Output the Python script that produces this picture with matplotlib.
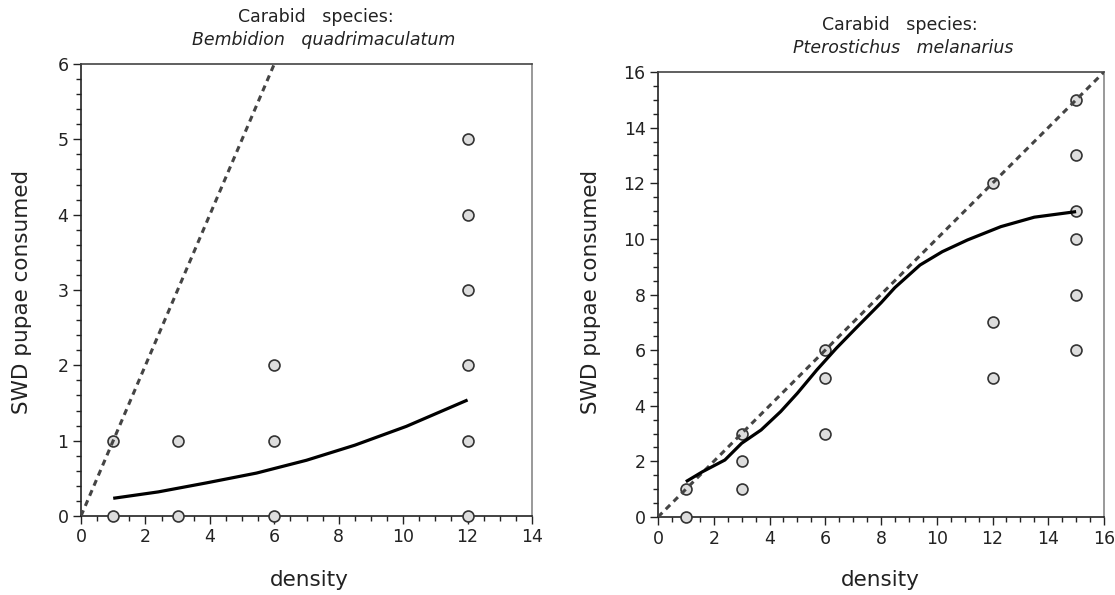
"""Functional response of two carabid species feeding on SWD pupae."""
import matplotlib
matplotlib.use("Agg")
import matplotlib.pyplot as plt
from matplotlib.ticker import MultipleLocator

# Bembidion quadrimaculatum
bq_density = [1, 1, 3, 3, 6, 6, 6, 12, 12, 12, 12, 12, 12]
bq_consumed = [0, 1, 0, 1, 0, 1, 2, 0, 1, 2, 3, 4, 5]
bq_fit_x = [1.0, 2.4, 3.9, 5.45, 7.0, 8.5, 10.1, 12.0]
bq_fit_y = [0.235, 0.32, 0.44, 0.57, 0.74, 0.94, 1.19, 1.54]
bq_ref_x = [0, 6]
bq_ref_y = [0, 6]

# Pterostichus melanarius
pm_density = [1, 1, 3, 3, 3, 6, 6, 6, 12, 12, 12, 15, 15, 15, 15, 15, 15]
pm_consumed = [0, 1, 1, 2, 3, 3, 5, 6, 5, 7, 12, 6, 8, 10, 11, 13, 15]
pm_fit_x = [1.0, 1.6, 2.4, 3.0, 3.7, 4.4, 5.0, 5.7, 6.4, 7.1, 8.0, 8.5, 9.4,
            10.2, 11.1, 12.3, 13.5, 15.0]
pm_fit_y = [1.27, 1.63, 2.05, 2.65, 3.13, 3.79, 4.45, 5.29, 6.07, 6.79, 7.7, 8.25,
            9.06, 9.54, 9.96, 10.44, 10.78, 10.98]
pm_ref_x = [0, 16]
pm_ref_y = [0, 16]

plt.rcParams["font.family"] = ["DejaVu Sans"]

fig = plt.figure(figsize=(11.15, 5.95), dpi=100)
W, H = 1115, 595


def make_axes(x0, x1, y_top, y_bot):
    return fig.add_axes([x0 / W, 1 - y_bot / H, (x1 - x0) / W, (y_bot - y_top) / H])


def style_axes(ax, xmax, ymax, ymajor, yminor):
    ax.set_xlim(0, xmax)
    ax.set_ylim(0, ymax)
    ax.xaxis.set_major_locator(MultipleLocator(2))
    ax.xaxis.set_minor_locator(MultipleLocator(0.5))
    ax.yaxis.set_major_locator(MultipleLocator(ymajor))
    ax.yaxis.set_minor_locator(MultipleLocator(yminor))
    ax.tick_params(which="major", direction="out", length=6, width=1, labelsize=12.5,
                   colors="#222222", pad=3)
    ax.tick_params(which="minor", direction="out", length=3.5, width=1, color="#222222")
    ax.spines["left"].set_color("#222222")
    ax.spines["bottom"].set_color("#222222")
    ax.spines["top"].set_color("#444444")
    ax.spines["right"].set_color("#888888")
    for s in ax.spines.values():
        s.set_linewidth(1.2)


def draw_panel(ax, dens, cons, fx, fy, rx, ry):
    ax.scatter(dens, cons, s=62, facecolor="#dddddd", edgecolor="#333333",
               linewidth=1.2, zorder=3, clip_on=False)
    ax.plot(rx, ry, color="#444444", lw=2.2, dashes=(2, 1.6), zorder=4,
            solid_capstyle="butt")
    ax.plot(fx, fy, color="black", lw=2.3, zorder=5, solid_capstyle="butt")


ax1 = make_axes(81, 532, 64, 516)
style_axes(ax1, 14, 6, 1, 0.2)
draw_panel(ax1, bq_density, bq_consumed, bq_fit_x, bq_fit_y, bq_ref_x, bq_ref_y)

ax2 = make_axes(658, 1104, 72, 517)
style_axes(ax2, 16, 16, 2, 0.5)
draw_panel(ax2, pm_density, pm_consumed, pm_fit_x, pm_fit_y, pm_ref_x, pm_ref_y)

# titles
fig.text(316 / W, 1 - 17 / H, "Carabid   species:", ha="center", va="center",
         fontsize=12.5, color="#222222")
fig.text(324 / W, 1 - 40 / H, "Bembidion   quadrimaculatum", ha="center", va="center",
         fontsize=12.5, style="italic", color="#222222")
fig.text(900 / W, 1 - 25 / H, "Carabid   species:", ha="center", va="center",
         fontsize=12.5, color="#222222")
fig.text(903 / W, 1 - 48 / H, "Pterostichus   melanarius", ha="center", va="center",
         fontsize=12.5, style="italic", color="#222222")

# axis labels
for x in (22, 591):
    fig.text(x / W, 1 - 292 / H, "SWD pupae consumed", rotation=90, ha="center",
             va="center", fontsize=15.5, color="#222222")
fig.text(309 / W, 1 - 580 / H, "density", ha="center", va="center", fontsize=15.5,
         color="#222222")
fig.text(880 / W, 1 - 580 / H, "density", ha="center", va="center", fontsize=15.5,
         color="#222222")

fig.savefig("out.png", dpi=100)
